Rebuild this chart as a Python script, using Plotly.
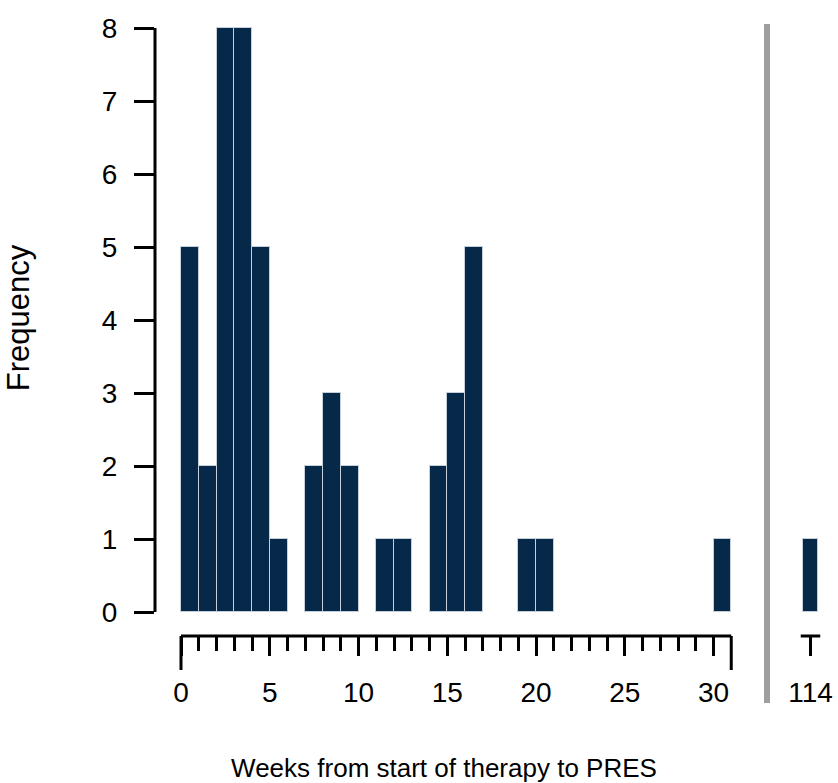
import plotly.graph_objects as go

# ---- data ----
bin_left = list(range(0, 31))            # weekly bins [w, w+1)
counts = [5, 2, 8, 8, 5, 1, 0, 2, 3, 2, 0, 1, 1, 0, 2, 3, 5, 0, 0, 1, 1,
          0, 0, 0, 0, 0, 0, 0, 0, 0, 1]
outlier_week = [114]
outlier_count = [1]
major_ticks = [0, 5, 10, 15, 20, 25, 30]
y_ticks = [0, 1, 2, 3, 4, 5, 6, 7, 8]

BAR = "#062849"
EDGE = "#c5d0db"
FONT = "Arial, Liberation Sans, sans-serif"

W, H = 838, 783
ML, MR, MT, MB = 155, 0, 0, 147
PW, PH = W - ML - MR, H - MT - MB
PX_X = 17.75       # px per week
X0_PX = 181        # pixel of week 0
Y0_PX = 612        # pixel of count 0
PX_Y = 73          # px per count

x_end_px = 733
main_dom_end = (x_end_px - ML) / PW
x_range = [(ML - X0_PX) / PX_X, (x_end_px - X0_PX) / PX_X]
x2_start_px = 785
x2_center_px = 810.5
x2_range = [outlier_week[0] - (x2_center_px - x2_start_px) / PX_X,
            outlier_week[0] + (W - MR - x2_center_px) / PX_X]
y_range = [(Y0_PX - (H - MB)) / PX_Y, (Y0_PX - MT) / PX_Y]

fig = go.Figure()
fig.add_trace(go.Bar(
    x=[b + 0.5 for b in bin_left], y=counts, width=1,
    marker=dict(color=BAR, line=dict(color=EDGE, width=[1 if c else 0 for c in counts])),
    xaxis="x", yaxis="y", showlegend=False, hoverinfo="x+y"))
fig.add_trace(go.Bar(
    x=outlier_week, y=outlier_count, width=0.9,
    marker=dict(color=BAR, line=dict(color=EDGE, width=1)),
    xaxis="x2", yaxis="y", showlegend=False))

minor_vals = [v for v in range(1, 31) if v % 5]
TICKF = 28
fig.update_layout(
    width=W, height=H,
    margin=dict(l=ML, r=MR, t=MT, b=MB, pad=0, autoexpand=False),
    paper_bgcolor="white", plot_bgcolor="white",
    font=dict(family=FONT, color="black"),
    bargap=0,
    xaxis=dict(
        domain=[0, main_dom_end], range=x_range, anchor="y", automargin=False,
        showgrid=False, zeroline=False, showline=False,
        tickmode="array", tickvals=major_ticks,
        ticks="outside", ticklen=19, tickwidth=3, tickcolor="black",
        tickfont=dict(size=TICKF, family=FONT), ticklabelstandoff=12,
        minor=dict(tickmode="array", tickvals=minor_vals, ticks="outside",
                   ticklen=14, tickwidth=3, tickcolor="black", showgrid=False),
        title=dict(text="Weeks from start of therapy to PRES",
                   font=dict(size=26, family=FONT), standoff=56),
    ),
    xaxis2=dict(
        domain=[(x2_start_px - ML) / PW, 1], range=x2_range, anchor="y", automargin=False,
        showgrid=False, zeroline=False, showline=False,
        tickmode="array", tickvals=outlier_week,
        ticktext=[str(v) for v in outlier_week],
        ticks="outside", ticklen=19, tickwidth=3, tickcolor="black",
        tickfont=dict(size=TICKF, family=FONT), ticklabelstandoff=12,
    ),
    yaxis=dict(
        range=y_range, anchor="x", automargin=False,
        showgrid=False, zeroline=False, showline=False,
        tickmode="array", tickvals=y_ticks,
        ticks="outside", ticklen=20, tickwidth=3, tickcolor="black",
        tickfont=dict(size=TICKF, family=FONT), ticklabelstandoff=11,
        title=dict(text="Frequency", font=dict(size=31, family=FONT), standoff=62),
    ),
)

end_tick = -34 / PH
shapes = [
    # y axis line from 0 to 8
    dict(type="line", xref="paper", yref="y", x0=0, x1=0, y0=y_ticks[0], y1=y_ticks[-1],
         line=dict(color="black", width=3)),
    # x axis line from 0 to 31
    dict(type="line", xref="x", yref="paper", x0=bin_left[0], x1=bin_left[-1] + 1, y0=0, y1=0,
         line=dict(color="black", width=3)),
    # long end ticks
    dict(type="line", xref="x", yref="paper", x0=bin_left[0], x1=bin_left[0], y0=0, y1=end_tick,
         line=dict(color="black", width=3)),
    dict(type="line", xref="x", yref="paper", x0=bin_left[-1] + 1, x1=bin_left[-1] + 1, y0=0, y1=end_tick,
         line=dict(color="black", width=3)),
    # short axis segment on the break panel
    dict(type="line", xref="x2", yref="paper", x0=outlier_week[0] - 0.55, x1=outlier_week[0] + 0.55,
         y0=0, y1=0, line=dict(color="black", width=3)),
    # grey break line
    dict(type="line", xref="paper", yref="paper", x0=(767 - ML) / PW, x1=(767 - ML) / PW,
         y0=-(703 - (H - MB)) / PH, y1=((H - MB) - 24) / PH,
         line=dict(color="#9e9e9e", width=6)),
]
fig.update_layout(shapes=shapes)

fig.write_html("out.html", config={"displayModeBar": False},
               post_script="document.body.style.margin='0';document.body.style.overflow='hidden';")
